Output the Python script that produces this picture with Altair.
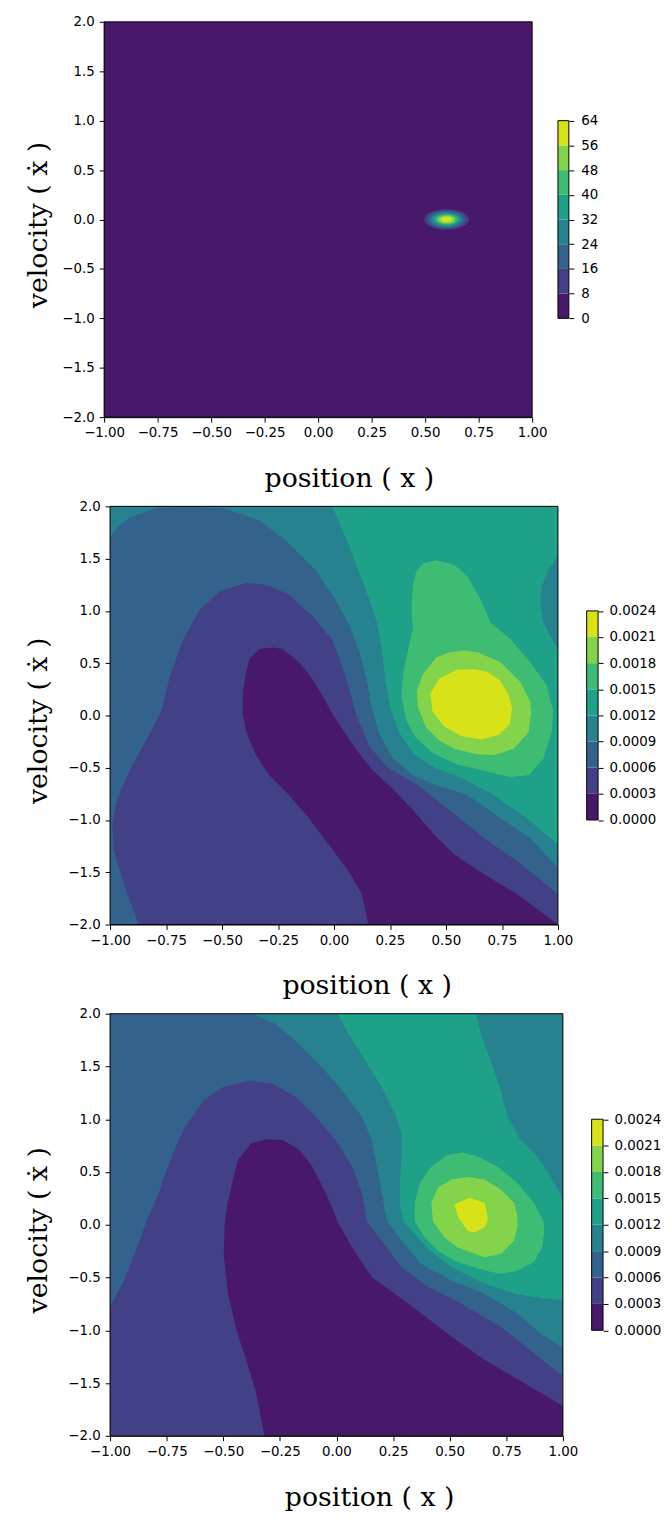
import altair as alt
import pandas as pd

# ---------------- axes / colour bands ----------------
X_TICKS = [-1.0, -0.75, -0.5, -0.25, 0.0, 0.25, 0.5, 0.75, 1.0]
Y_TICKS = [-2.0, -1.5, -1.0, -0.5, 0.0, 0.5, 1.0, 1.5, 2.0]
BAND_COLORS = ["#48186a", "#424086", "#33638d", "#26828e",
               "#1fa088", "#3fbc73", "#84d44b", "#d8e219"]
CB1_LEVELS = [0, 8, 16, 24, 32, 40, 48, 56, 64]
CB23_LEVELS = [0.0, 0.0003, 0.0006, 0.0009, 0.0012, 0.0015, 0.0018, 0.0021, 0.0024]

X_TITLE = "position ( x )"
Y_TITLE = "velocity ( \u1e8b )"

FULL_FRAME = [(-1.0, -2.0), (1.0, -2.0), (1.0, 2.0), (-1.0, 2.0)]

# ---------------- panel 1: narrow peak ----------------
BLOB_X = 0.6
BLOB_Y = 0.0
BLOB_BANDS = [1, 2, 3, 4, 5, 6, 7]
BLOB_RX = [0.104, 0.088, 0.074, 0.062, 0.051, 0.040, 0.027]
BLOB_RY_OVER_RX = 1.0

# ---------------- panel 2 contour regions (band index -> boundary) ----------------
P2_BAND0 = [(0.153, -2.0), (0.124, -1.709), (0.065, -1.488), (-0.024, -1.235), (-0.112, -0.983),
            (-0.201, -0.762), (-0.289, -0.572), (-0.348, -0.382), (-0.392, -0.161), (-0.408, 0.03),
            (-0.407, 0.224), (-0.392, 0.414), (-0.378, 0.54), (-0.333, 0.635), (-0.274, 0.651),
            (-0.23, 0.635), (-0.156, 0.509), (-0.097, 0.351), (-0.053, 0.193), (-0.012, 0.03),
            (0.04, -0.14), (0.10, -0.33), (0.17, -0.52), (0.26, -0.70), (0.345, -0.888),
            (0.448, -1.141), (0.537, -1.33), (0.67, -1.52), (0.817, -1.709), (1.0, -2.0)]
P2_BAND2 = [(-1.0, -2.0), (-0.872, -2.0), (-0.938, -1.615), (-0.982, -1.299), (-0.99, -1.046),
            (-0.968, -0.793), (-0.909, -0.509), (-0.835, -0.224), (-0.772, 0.03), (-0.732, 0.382),
            (-0.673, 0.73), (-0.599, 1.014), (-0.51, 1.188), (-0.392, 1.267), (-0.304, 1.251),
            (-0.201, 1.156), (-0.097, 0.951), (-0.009, 0.73), (0.04, 0.45), (0.075, 0.2),
            (0.10, 0.0), (0.16, -0.30), (0.24, -0.50), (0.375, -0.667), (0.522, -0.919),
            (0.67, -1.172), (0.817, -1.393), (1.0, -1.709), (1.0, 2.0), (-1.0, 2.0)]
P2_BAND3 = [(-1.0, 2.0), (-1.0, 1.694), (-0.968, 1.804), (-0.909, 1.899), (-0.791, 1.985),
            (-0.658, 1.992), (-0.496, 1.985), (-0.333, 1.867), (-0.201, 1.646), (-0.083, 1.393),
            (0.006, 1.109), (0.07, 0.856), (0.115, 0.6), (0.145, 0.35), (0.165, 0.1),
            (0.2, -0.16), (0.26, -0.4), (0.35, -0.57), (0.45, -0.66), (0.596, -0.762),
            (0.743, -0.983), (0.876, -1.172), (1.0, -1.457), (1.0, 2.0)]
P2_BAND4 = [(-0.009, 2.0), (1.0, 2.0), (1.0, 1.52), (0.957, 1.393), (0.928, 1.235), (0.92, 1.077),
            (0.935, 0.888), (0.972, 0.73), (1.0, 0.635), (1.0, -1.235), (0.861, -0.983),
            (0.714, -0.762), (0.57, -0.6), (0.45, -0.5), (0.36, -0.38), (0.29, -0.16),
            (0.25, 0.08), (0.228, 0.35), (0.212, 0.65), (0.19, 0.9), (0.16, 1.1),
            (0.116, 1.343), (0.06, 1.665)]
P2_BAND5 = [(0.456, 1.485), (0.397, 1.454), (0.367, 1.375), (0.353, 1.248), (0.345, 1.027),
            (0.353, 0.838), (0.33, 0.616), (0.308, 0.395), (0.301, 0.174), (0.323, -0.047),
            (0.36, -0.2), (0.44, -0.36), (0.55, -0.47), (0.67, -0.53), (0.79, -0.59),
            (0.87, -0.57), (0.935, -0.414), (0.972, -0.161), (0.979, 0.035), (0.95, 0.288),
            (0.876, 0.509), (0.788, 0.73), (0.699, 0.888), (0.655, 1.109), (0.596, 1.33),
            (0.537, 1.441)]
P2_BAND6 = [(0.58, 0.62), (0.64, 0.605), (0.743, 0.509), (0.832, 0.319), (0.876, 0.13),
            (0.88, 0.03), (0.869, -0.161), (0.802, -0.319), (0.714, -0.38), (0.633, -0.37),
            (0.54, -0.32), (0.47, -0.24), (0.41, -0.11), (0.375, 0.079), (0.37, 0.237),
            (0.397, 0.395), (0.456, 0.553), (0.52, 0.605)]
P2_BAND7 = [(0.55, 0.44), (0.633, 0.44), (0.68, 0.42), (0.74, 0.34), (0.78, 0.2),
            (0.795, 0.066), (0.785, -0.08), (0.74, -0.18), (0.66, -0.23), (0.57, -0.2),
            (0.49, -0.1), (0.44, 0.04), (0.43, 0.21), (0.47, 0.35)]

# ---------------- panel 3 contour regions ----------------
P3_BAND0 = [(-0.311, 0.81), (-0.377, 0.772), (-0.435, 0.616), (-0.464, 0.365), (-0.483, 0.177),
            (-0.493, 0.021), (-0.498, -0.277), (-0.479, -0.653), (-0.442, -0.998), (-0.399, -1.28),
            (-0.355, -1.593), (-0.318, -2.0), (1.0, -2.0), (1.0, -1.718), (0.828, -1.499),
            (0.653, -1.28), (0.507, -1.06), (0.375, -0.841), (0.258, -0.653), (0.156, -0.497),
            (0.069, -0.215), (0.003, 0.036), (-0.004, 0.083), (-0.048, 0.303), (-0.107, 0.553),
            (-0.165, 0.71), (-0.238, 0.804)]
P3_BAND2 = [(-1.0, -0.779), (-0.939, -0.528), (-0.88, -0.215), (-0.84, 0.03), (-0.785, 0.303),
            (-0.734, 0.616), (-0.676, 0.898), (-0.588, 1.179), (-0.501, 1.305), (-0.384, 1.367),
            (-0.282, 1.336), (-0.18, 1.211), (-0.092, 1.023), (-0.004, 0.804), (0.069, 0.553),
            (0.112, 0.303), (0.134, 0.03), (0.2, -0.152), (0.288, -0.403), (0.404, -0.591),
            (0.55, -0.747), (0.726, -0.966), (0.872, -1.217), (1.0, -1.436), (1.0, 2.0), (-1.0, 2.0)]
P3_BAND3 = [(-0.369, 2.0), (-0.267, 1.9), (-0.18, 1.743), (-0.077, 1.524), (0.025, 1.273),
            (0.112, 1.023), (0.156, 0.804), (0.178, 0.553), (0.2, 0.303), (0.222, 0.04),
            (0.288, -0.152), (0.375, -0.371), (0.507, -0.528), (0.653, -0.653), (0.799, -0.841),
            (0.901, -1.029), (1.0, -1.17), (1.0, 2.0)]
P3_BAND4 = [(0.003, 2.0), (0.616, 2.0), (0.638, 1.806), (0.682, 1.555), (0.726, 1.273),
            (0.755, 1.023), (0.813, 0.804), (0.886, 0.647), (0.945, 0.459), (1.0, 0.24),
            (1.0, -0.716), (0.915, -0.7), (0.8, -0.66), (0.653, -0.56), (0.507, -0.4),
            (0.4, -0.22), (0.33, -0.05), (0.295, 0.03), (0.28, 0.177), (0.28, 0.428),
            (0.288, 0.678), (0.288, 0.866), (0.258, 1.054), (0.2, 1.305), (0.127, 1.555),
            (0.054, 1.806)]
P3_BAND5 = [(0.558, 0.685), (0.492, 0.663), (0.419, 0.553), (0.368, 0.396), (0.346, 0.209),
            (0.346, 0.03), (0.39, -0.121), (0.448, -0.246), (0.521, -0.34), (0.653, -0.434),
            (0.726, -0.465), (0.799, -0.434), (0.872, -0.356), (0.908, -0.215), (0.918, -0.058),
            (0.915, 0.03), (0.872, 0.209), (0.799, 0.396), (0.711, 0.553), (0.623, 0.647)]
P3_BAND6 = [(0.58, 0.453), (0.507, 0.428), (0.448, 0.35), (0.419, 0.209), (0.426, 0.03),
            (0.477, -0.121), (0.536, -0.215), (0.653, -0.309), (0.726, -0.277), (0.784, -0.152),
            (0.799, -0.027), (0.799, 0.083), (0.784, 0.209), (0.726, 0.334), (0.653, 0.428)]
P3_BAND7 = [(0.587, 0.256), (0.653, 0.209), (0.667, 0.083), (0.667, 0.03), (0.653, -0.027),
            (0.609, -0.074), (0.58, -0.058), (0.55, 0.03), (0.536, 0.083), (0.521, 0.193)]

TICK_FONT = "DejaVu Sans"
TITLE_FONT = "DejaVu Serif"


def poly_df(pts):
    return pd.DataFrame({"x": [p[0] for p in pts], "y": [p[1] for p in pts],
                         "i": list(range(len(pts)))})


def make_panel(w, h, lpad, regions, cb_levels, cb_fmt, cb_gap, cb_w, cb_pad, xt_dx, yt_x,
               blob=False):
    xenc = alt.X("x:Q", scale=alt.Scale(domain=[-1, 1], range=[lpad, lpad + w],
                                        nice=False, zero=False),
                 axis=alt.Axis(values=X_TICKS, format=".2f", title=X_TITLE,
                               titleX=lpad + w / 2 + xt_dx, titleY=70,
                               titleBaseline="alphabetic",
                               labelFlush=False, labelOverlap=False, labelPadding=4))
    yenc = alt.Y("y:Q", scale=alt.Scale(domain=[-2, 2], nice=False, zero=False),
                 axis=alt.Axis(values=Y_TICKS, format=".1f", title=Y_TITLE, offset=-lpad,
                               titleX=yt_x, titleY=h / 2 + 5, titleBaseline="alphabetic",
                               labelFlush=False, labelOverlap=False, labelPadding=5))
    layers = []
    for band, pts in regions:
        layers.append(
            alt.Chart(poly_df(pts))
            .mark_line(filled=True, fill=BAND_COLORS[band], strokeWidth=0, clip=True)
            .encode(x=xenc, y=yenc, order="i:Q")
        )
    if blob:
        aspect = BLOB_RY_OVER_RX * (h / 4.0) / (w / 2.0)
        ellipse = f"M -1 0 A 1 {aspect:.4f} 0 1 1 1 0 A 1 {aspect:.4f} 0 1 1 -1 0 Z"
        bdf = pd.DataFrame({"x": [BLOB_X] * len(BLOB_BANDS), "y": [BLOB_Y] * len(BLOB_BANDS),
                            "rx": BLOB_RX, "c": [BAND_COLORS[b] for b in BLOB_BANDS]})
        layers.append(
            alt.Chart(bdf)
            .mark_point(shape=ellipse, filled=True, opacity=1, strokeWidth=0, clip=True)
            .encode(x=xenc, y=yenc,
                    size=alt.Size("rx:Q", scale=alt.Scale(type="pow", exponent=2, domain=[0, 1],
                                                          range=[0, w * w]), legend=None),
                    color=alt.Color("c:N", scale=None),
                    order=alt.Order("rx:Q", sort="descending"))
        )
    # frame around the plot area (drawn through the data scales)
    fx = [p[0] for p in FULL_FRAME]
    fy = [p[1] for p in FULL_FRAME]
    fdf = pd.DataFrame({"x": [min(fx)], "x2": [max(fx)], "y": [min(fy)], "y2": [max(fy)]})
    layers.append(
        alt.Chart(fdf).mark_rect(fillOpacity=0, stroke="black", strokeWidth=1)
        .encode(x=xenc, x2="x2:Q", y=yenc, y2="y2:Q")
    )
    plot = alt.layer(*layers)

    cb_df = pd.DataFrame({"lo": cb_levels[:-1], "hi": cb_levels[1:], "c": BAND_COLORS,
                          "x0": 0.0, "x1": 1.0})
    cb_left = lpad + w + cb_gap
    cbx = alt.X("x0:Q", scale=alt.Scale(domain=[0, 1], range=[cb_left, cb_left + cb_w]),
                axis=None)
    cby = alt.Y("lo:Q", scale=alt.Scale(domain=[cb_levels[0], cb_levels[-1]],
                                        range=[h * 0.75, h * 0.25], nice=False, zero=False),
                axis=alt.Axis(orient="right", offset=cb_gap + cb_w, values=cb_levels,
                              format=cb_fmt, title=None, domain=False, tickSize=5,
                              labelPadding=cb_pad, labelFlush=False, labelOverlap=False))
    bands = alt.Chart(cb_df).mark_rect().encode(
        x=cbx, x2="x1:Q", y=cby, y2="hi:Q", color=alt.Color("c:N", scale=None))
    odf = pd.DataFrame({"lo": [cb_levels[0]], "hi": [cb_levels[-1]], "x0": [0.0], "x1": [1.0]})
    outline = alt.Chart(odf).mark_rect(fillOpacity=0, stroke="black", strokeWidth=1).encode(
        x=cbx, x2="x1:Q", y=cby, y2="hi:Q")
    cb = alt.layer(bands, outline)

    return (alt.layer(plot, cb)
            .resolve_scale(x="independent", y="independent")
            .properties(width=lpad + w, height=h))


p1 = make_panel(432, 399, 0, [(0, FULL_FRAME)], CB1_LEVELS, "d", 26, 11, 7, 31, -58, blob=True)
p2 = make_panel(452, 422, 6,
                [(1, FULL_FRAME), (0, P2_BAND0), (2, P2_BAND2), (3, P2_BAND3), (4, P2_BAND4),
                 (5, P2_BAND5), (6, P2_BAND6), (7, P2_BAND7)],
                CB23_LEVELS, ".4f", 29, 11.5, 6, 33, -64)
p3 = make_panel(457, 426, 6,
                [(1, FULL_FRAME), (0, P3_BAND0), (2, P3_BAND2), (3, P3_BAND3), (4, P3_BAND4),
                 (5, P3_BAND5), (6, P3_BAND6), (7, P3_BAND7)],
                CB23_LEVELS, ".4f", 29, 11.5, 6, 33, -64)

chart = (
    alt.vconcat(p1, p2, p3, spacing=90, bounds="flush")
    .configure(padding={"left": 17, "top": 0, "right": 0, "bottom": 0})
    .configure_view(strokeWidth=0)
    .configure_axis(labelFont=TICK_FONT, labelFontSize=13.5, labelColor="black",
                    tickColor="black", tickWidth=1, tickSize=5, domainColor="black",
                    domainWidth=1, grid=False, titleFont=TITLE_FONT, titleFontSize=27,
                    titleFontWeight="normal", titleColor="black")
)

chart.save("out.html", embed_options={"renderer": "svg", "actions": False})
